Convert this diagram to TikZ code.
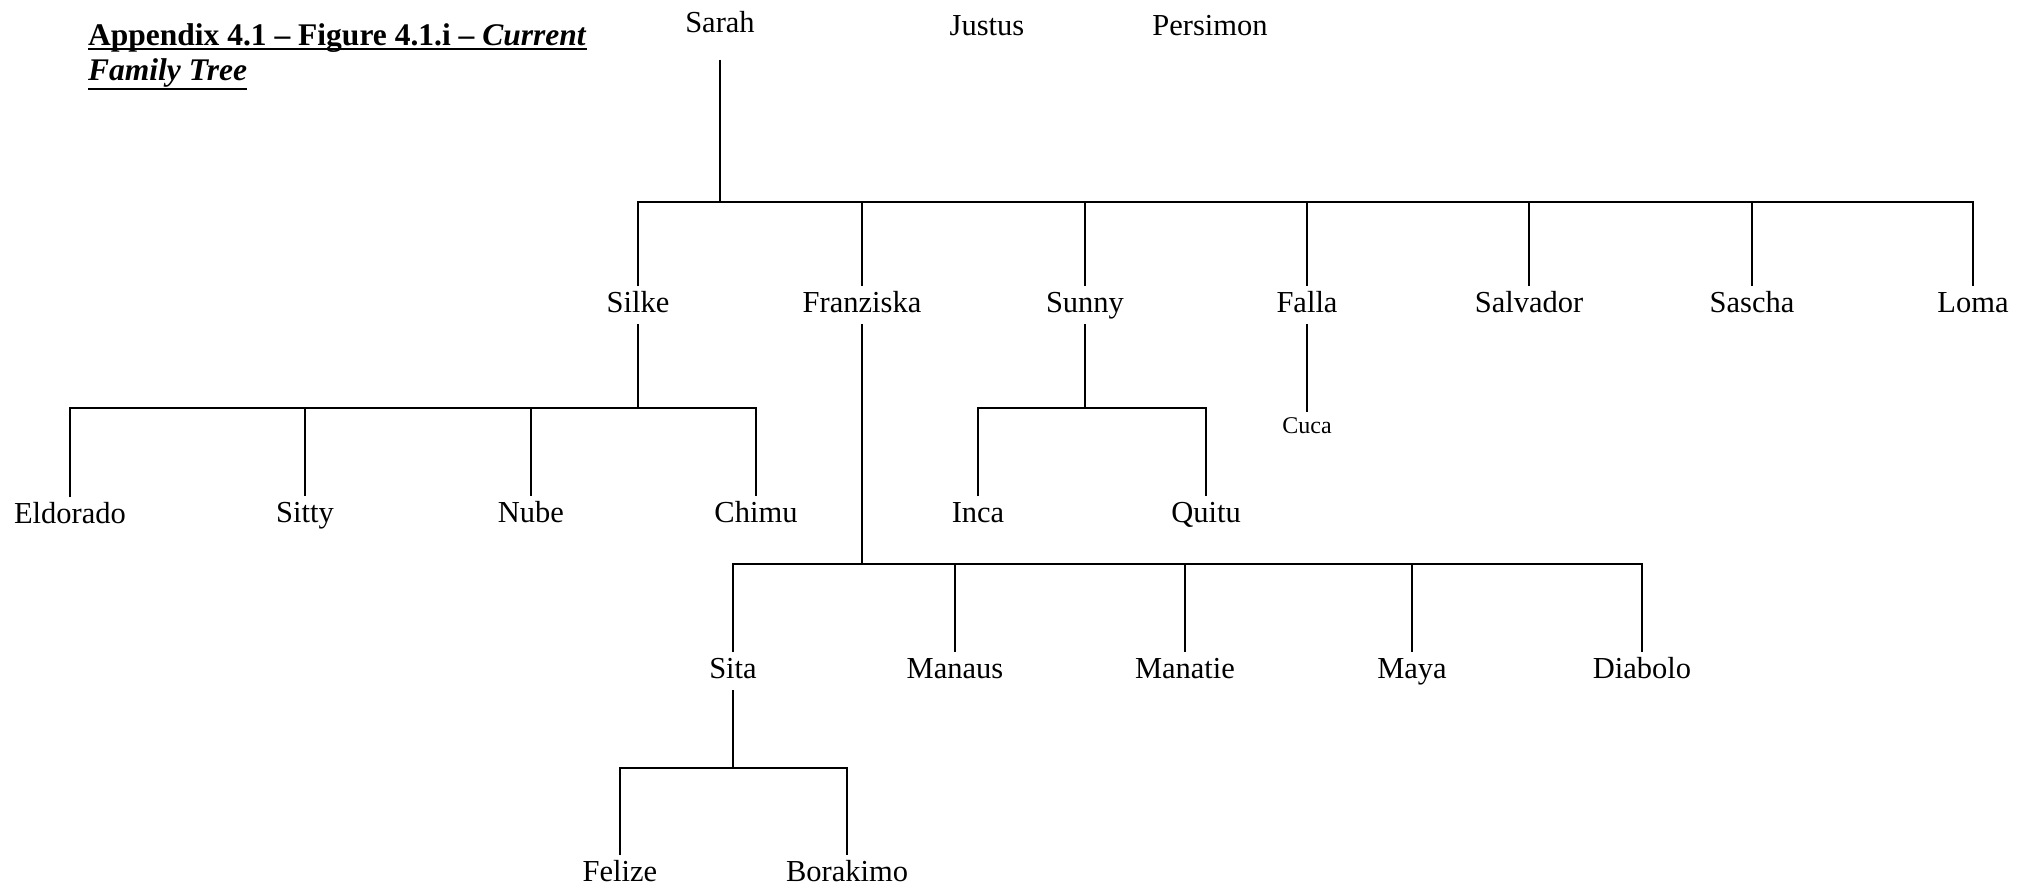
\documentclass[tikz,border=0pt]{standalone}
\usepackage{fontspec}
\setmainfont{Liberation Serif}
\begin{document}
\begin{tikzpicture}[x=1pt,y=-1pt,
  person/.style={font=\fontsize{30.5}{36}\selectfont, inner xsep=0pt, inner ysep=4pt,
                 text height=21.4pt, text depth=7.6pt, anchor=base},
  smallperson/.style={person, font=\fontsize{24}{29}\selectfont, text height=16.8pt, text depth=6pt},
  titletext/.style={font=\bfseries\fontsize{31.5}{37}\selectfont, inner sep=0pt, anchor=base west},
  link/.style={line width=2.2pt, line join=miter},
  uline/.style={line width=2.2pt},
]
\useasboundingbox (0,0) rectangle (2032,887);

% title
\node[titletext] (title1) at (88,45) {Appendix 4.1 – Figure 4.1.i – \textit{Current}};
\node[titletext] (title2) at (88,80) {\textit{Family Tree}};
\draw[uline] ([yshift=-4pt]title1.base west) -- ([yshift=-4pt]title1.base east);
\draw[uline] ([yshift=-9pt]title2.base west) -- ([yshift=-9pt]title2.base east);

% generation 0
\node[person] (sarah) at (720,32) {Sarah};
\node[person] (justus) at (987,35) {Justus};
\node[person] (persimon) at (1210,35) {Persimon};

% bars
\coordinate (bar0) at (0,202);
\coordinate (bar1) at (0,408);
\coordinate (bar2) at (0,408);
\coordinate (bar3) at (0,564);
\coordinate (bar4) at (0,768);

% generation 1
\node[person] (silke) at (638,312) {Silke};
\node[person] (franziska) at (862,312) {Franziska};
\node[person] (sunny) at (1085,312) {Sunny};
\node[person] (falla) at (1307,312) {Falla};
\node[person] (salvador) at (1529,312) {Salvador};
\node[person] (sascha) at (1752,312) {Sascha};
\node[person] (loma) at (1973,312) {Loma};

% generation 2
\node[person] (eldorado) at (70,523) {Eldorado};
\node[person] (sitty) at (305,522) {Sitty};
\node[person] (nube) at (531,522) {Nube};
\node[person] (chimu) at (756,522) {Chimu};
\node[person] (inca) at (978,522) {Inca};
\node[person] (quitu) at (1206,522) {Quitu};
\node[smallperson] (cuca) at (1307,433) {Cuca};

\node[person] (sita) at (733,678) {Sita};
\node[person] (manaus) at (955,678) {Manaus};
\node[person] (manatie) at (1185,678) {Manatie};
\node[person] (maya) at (1412,678) {Maya};
\node[person] (diabolo) at (1642,678) {Diabolo};

% generation 3
\node[person] (felize) at (620,881) {Felize};
\node[person] (borakimo) at (847,881) {Borakimo};

% Sarah's family
\draw[link] ([yshift=-16pt]sarah.south) -- (sarah |- bar0);
\draw[link] (silke.north) -- (silke |- bar0) -- (loma |- bar0) -- (loma.north);
\foreach \c in {franziska,sunny,falla,salvador,sascha}
  \draw[link] (\c |- bar0) -- (\c.north);

% Silke's family
\draw[link] (silke.south) -- (silke |- bar1);
\draw[link] (eldorado.north) -- (eldorado |- bar1) -- (chimu |- bar1) -- (chimu.north);
\foreach \c in {sitty,nube}
  \draw[link] (\c |- bar1) -- (\c.north);

% Sunny's family
\draw[link] (sunny.south) -- (sunny |- bar2);
\draw[link] (inca.north) -- (inca |- bar2) -- (quitu |- bar2) -- (quitu.north);

% Falla's family
\draw[link] (falla.south) -- (cuca.north);

% Franziska's family
\draw[link] (franziska.south) -- (franziska |- bar3);
\draw[link] (sita.north) -- (sita |- bar3) -- (diabolo |- bar3) -- (diabolo.north);
\foreach \c in {manaus,manatie,maya}
  \draw[link] (\c |- bar3) -- (\c.north);

% Sita's family
\draw[link] (sita.south) -- (sita |- bar4);
\draw[link] (felize.north) -- (felize |- bar4) -- (borakimo |- bar4) -- (borakimo.north);
\end{tikzpicture}
\end{document}
